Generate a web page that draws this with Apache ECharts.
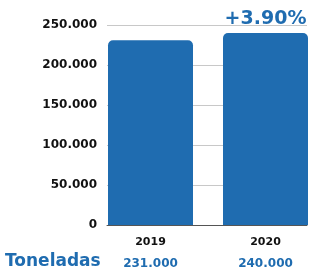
<!DOCTYPE html>
<html>
<head>
<meta charset="utf-8">
<script src="https://cdn.jsdelivr.net/npm/echarts@6/dist/echarts.min.js"></script>
<style>
  html, body { margin: 0; padding: 0; background: #fff; }
  #chart { width: 309px; height: 268px; }
</style>
</head>
<body>
<div id="chart"></div>
<script>
const years = ['2019', '2020']
const toneladas = [231000, 240000]
const valueLabels = ['231.000', '240.000']
const growthLabel = '+3.90%'

const blue = '#1f6cb0'
const font = 'DejaVu Sans'

function fmt (v) {
  if (v === 0) return '0'
  return (v / 1000).toFixed(0) + '.000'
}

let myChart = echarts.init(document.getElementById('chart'))
let option = {
  animation: false,
  grid: [
    // frame: y labels, gridlines, base line
    { left: 107, right: 2, top: 25, bottom: 43, outerBoundsMode: 'none', containLabel: false },
    // bars: slightly wider so the columns sit like the original
    { left: 93, right: -14, top: 25, bottom: 43, outerBoundsMode: 'none', containLabel: false }
  ],
  xAxis: [
    {
      gridIndex: 0,
      type: 'category',
      data: years,
      axisTick: { show: false },
      axisLabel: { show: false },
      axisLine: { lineStyle: { color: '#555', width: 1 } }
    },
    {
      gridIndex: 1,
      type: 'category',
      data: years,
      axisTick: { show: false },
      axisLine: { show: false },
      axisLabel: {
        margin: 8,
        formatter: (val, idx) => '{y|' + val + '}\n{v|' + valueLabels[idx] + '}',
        rich: {
          y: { fontFamily: font, fontWeight: 'bold', fontSize: 11, color: '#111', lineHeight: 18 },
          v: { fontFamily: font, fontWeight: 'bold', fontSize: 12, color: blue, lineHeight: 26 }
        }
      }
    }
  ],
  yAxis: [
    {
      gridIndex: 0,
      type: 'value',
      min: 0,
      max: 250000,
      interval: 50000,
      axisLabel: {
        formatter: fmt,
        fontFamily: font,
        fontWeight: 'bold',
        fontSize: 12,
        color: '#111',
        margin: 10
      },
      splitLine: { lineStyle: { color: '#c8c8c8' } }
    },
    {
      gridIndex: 1,
      type: 'value',
      min: 0,
      max: 250000,
      interval: 50000,
      show: false,
      splitLine: { show: false }
    }
  ],
  graphic: [
    {
      type: 'text',
      left: 5,
      top: 253,
      style: { text: 'Toneladas', fontFamily: font, fontWeight: 'bold', fontSize: 17, fill: blue }
    }
  ],
  series: [
    {
      type: 'bar',
      xAxisIndex: 1,
      yAxisIndex: 1,
      barWidth: 85,
      z: 3,
      itemStyle: { color: blue, borderRadius: [5, 5, 0, 0] },
      data: toneladas.map((v, i) => i === 1 ? {
        value: v,
        label: {
          show: true,
          position: 'top',
          distance: 4,
          formatter: growthLabel,
          fontFamily: font,
          fontWeight: 'bold',
          fontSize: 19,
          color: blue
        }
      } : v)
    }
  ]
}
myChart.setOption(option)
</script>
</body>
</html>
